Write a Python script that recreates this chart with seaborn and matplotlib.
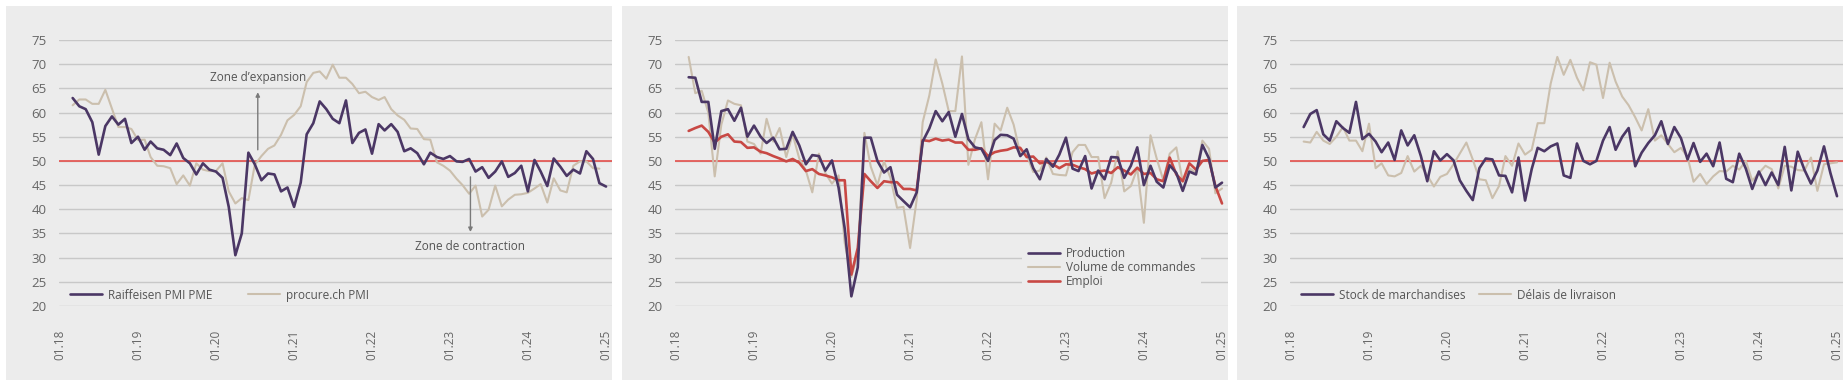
import pandas as pd
import matplotlib.pyplot as plt
import matplotlib.dates as mdates
from matplotlib.patches import Rectangle
from matplotlib.lines import Line2D
import seaborn as sns

# monthly data, 03.2018 - 01.2025
dates = pd.date_range('2018-03-01', '2025-01-01', freq='MS')

raiffeisen_pmi = [63, 61.3, 60.7, 58, 51.3, 57.2, 59.2, 57.5, 58.7, 53.7,
                  55, 52.3, 54, 52.6, 52.3, 51.2, 53.6, 50.6, 49.5, 47.2, 49.5, 48.2,
                  47.8, 46.5, 40.5, 30.5, 35, 51.7, 49.3, 46, 47.4, 47.2, 43.7, 44.5,
                  40.5, 45.5, 55.5, 57.8, 62.3, 60.7, 58.7, 57.8, 62.5, 53.7, 55.8, 56.5,
                  51.5, 57.6, 56.3, 57.6, 56, 52, 52.6, 51.6, 49.3, 51.7, 50.8, 50.4,
                  51, 49.9, 49.8, 50.4, 47.8, 48.7, 46.5, 47.8, 49.9, 46.7, 47.5, 49,
                  43.7, 50.2, 47.8, 44.8, 50.5, 48.8, 46.9, 48.2, 47.4, 52, 50.4, 45.4,
                  44.7]
procure_pmi = [61.5, 62.7, 62.7, 61.8, 61.8, 64.7, 60.8, 57, 57, 56.6,
               54.3, 54.4, 50.8, 49, 48.9, 48.5, 45.2, 47, 44.9, 49.5, 48.2, 47.9,
               47.9, 49.5, 43.7, 41.2, 42.3, 41.9, 49.2, 51, 52.5, 53.2, 55.4, 58.4,
               59.5, 61.3, 66.3, 68.2, 68.5, 67, 69.9, 67.2, 67.2, 65.9, 64, 64.3,
               63.2, 62.6, 63.2, 60.7, 59.4, 58.5, 56.7, 56.6, 54.5, 54.4, 49.7, 49,
               48, 46.3, 45, 43.2, 44.9, 38.5, 39.9, 44.9, 40.6, 42, 43, 43.1,
               43.4, 44.3, 45.2, 41.4, 46.4, 43.9, 43.5, 49, 49.9, 49.9, 48.5, 48.4,
               None]

production = [67.3, 67.2, 62.2, 62.2, 52.5, 60.3, 60.7, 58.3, 61, 55,
              57.3, 55, 53.7, 54.8, 52.4, 52.5, 56, 53.2, 49.3, 51.2, 51, 48,
              50.1, 44.5, 36, 22, 28, 54.8, 54.8, 50, 47.6, 48.7, 43, 41.7,
              40.4, 43.5, 54, 56.7, 60.3, 58.2, 60.1, 55, 59.7, 54.5, 52.8, 52.5,
              50, 54.3, 55.4, 55.3, 54.6, 51, 52.4, 48.5, 46.2, 50.4, 48.8, 51.3,
              54.8, 48.4, 47.9, 51, 44.3, 48, 46.2, 50.8, 50.7, 46.5, 49, 52.8,
              45, 49, 45.7, 44.5, 49.1, 47.5, 43.8, 47.8, 47.2, 53.3, 50.5, 44.5,
              45.5]
commandes = [71.5, 64, 64.5, 60, 46.8, 57.5, 62.5, 61.8, 61.5, 54,
             53.5, 51.5, 58.7, 54, 56.8, 50.8, 55.5, 50.5, 48, 43.5, 51.5, 47.5,
             45.3, 47, 33, 26, 31, 55.8, 48.8, 45, 49.9, 46.5, 40.3, 40.5,
             32, 42, 58, 63.5, 71, 66, 60.3, 60.3, 71.6, 49.2, 54.5, 58,
             46.2, 57.7, 56.3, 61, 57.5, 51.5, 51.3, 47.7, 48, 50.7, 47.3, 47.1,
             47, 51.8, 53.3, 53.3, 50.8, 50.8, 42.3, 45.5, 52, 43.7, 44.8, 48.4,
             37.2, 55.3, 50.5, 46, 51.5, 52.8, 45.7, 48.5, 47.5, 54.2, 52.5, 43.3,
             44.3]
emploi = [56.2, 56.8, 57.3, 56, 53.8, 55, 55.5, 54, 53.9, 52.7,
          52.8, 51.9, 51.6, 51, 50.5, 49.9, 50.4, 49.6, 47.9, 48.3, 47.3, 47,
          46.6, 46, 46, 26.5, 32, 47.3, 45.8, 44.4, 45.8, 45.6, 45.6, 44.2,
          44.2, 43.9, 54.3, 54.1, 54.6, 54.2, 54.4, 53.8, 53.8, 52.3, 52.3, 52.6,
          51, 51.8, 52.1, 52.3, 52.8, 52.7, 50.8, 50.9, 49.5, 49.8, 49.3, 48.5,
          49.3, 49.2, 48.7, 48.3, 47.4, 47.8, 48, 47.5, 48.7, 48, 47.2, 48.6,
          47.3, 47.5, 46.2, 45.8, 50.7, 47.2, 45.8, 49.5, 48.2, 50, 50.2, 44.8,
          41.2]

stocks = [57, 59.7, 60.5, 55.5, 54.2, 58.2, 56.8, 55.8, 62.2, 54.5,
          55.6, 54, 51.8, 53.8, 50.2, 56.3, 53.2, 55.3, 51, 45.8, 52, 50.1,
          51.4, 50.1, 46, 43.8, 41.9, 48.5, 50.5, 50.3, 47, 46.9, 43.5, 50.7,
          41.8, 48.3, 52.7, 52, 53, 53.6, 47, 46.5, 53.6, 50, 49.3, 50,
          54.2, 57, 52.3, 55, 56.8, 48.9, 51.7, 53.7, 55.3, 58.2, 53.5, 57,
          54.7, 50.3, 53.7, 49.8, 51.5, 48.9, 53.8, 46.3, 45.6, 51.5, 48.4, 44.2,
          47.8, 45, 47.6, 45, 52.9, 43.9, 51.9, 48.2, 45.3, 48, 53, 47.5,
          42.7]
delais = [54, 53.8, 56, 54.2, 53.5, 55, 57, 54.2, 54.2, 52,
          57.7, 48.5, 49.5, 47, 46.8, 47.5, 51, 47.8, 49, 47, 44.7, 46.7,
          47.3, 49.3, 51.5, 53.8, 50.3, 46.2, 46, 42.3, 44.8, 51, 49, 53.6,
          51.3, 52.3, 57.8, 57.8, 66, 71.5, 67.8, 70.9, 67.2, 64.6, 70.4, 69.9,
          63, 70.3, 66.4, 63.3, 61.5, 59, 56.3, 60.7, 54.2, 55.3, 53.5, 51.8,
          52.7, 50.8, 45.7, 47.3, 45.2, 46.8, 47.9, 47.8, 49, 48.2, 50, 45.9,
          47.5, 49, 48.3, 44.3, 49, 48.8, 48.1, 48, 50.7, 43.8, 49.3, 49.5,
          49.7]

year_ticks = pd.date_range('2018-01-01', '2025-01-01', freq='YS')
year_labels = [d.strftime('%m.%y') for d in year_ticks]

PURPLE = '#4b3765'
BEIGE = '#cbbfad'
RED = '#c84844'
BG = '#ececec'
TXT = '#666666'

sns.set_theme(style='white')
plt.rcParams['font.family'] = ['Open Sans', 'DejaVu Sans']

W, H = 1847, 384
fig = plt.figure(figsize=(W / 100, H / 100), dpi=100)
panel_left = [6, 622, 1237]
axes = []
for px in panel_left:
    fig.add_artist(Rectangle((px / W, 4 / H), 606 / W, 374 / H, transform=fig.transFigure,
                             facecolor=BG, edgecolor='none', zorder=-1))
    ax = fig.add_axes([(px + 53) / W, 78 / H, 553 / W, 266 / H])
    ax.patch.set_visible(False)
    axes.append(ax)


def line(ax, values, color, lw, label, z):
    df = pd.DataFrame({'date': dates, 'value': values})
    sns.lineplot(data=df, x='date', y='value', color=color, lw=lw, ax=ax, zorder=z)
    return Line2D([], [], color=color, lw=lw, label=label)


def style(ax):
    ax.set_ylim(20, 75)
    ax.set_yticks(range(20, 80, 5))
    ax.set_xlim(mdates.date2num(pd.Timestamp('2017-12-27')), mdates.date2num(pd.Timestamp('2025-01-29')))
    ax.set_xticks(mdates.date2num(year_ticks))
    ax.set_xticklabels(year_labels, rotation=90)
    ax.yaxis.grid(True, color='#c8c8c8', lw=1)
    ax.set_axisbelow(True)
    ax.axhline(50, color='#e5504c', lw=1.2, zorder=1.5)
    ax.tick_params(axis='y', length=0, pad=9, labelsize=9.5, labelcolor=TXT)
    ax.tick_params(axis='x', length=0, pad=17, labelsize=8.5, labelcolor=TXT)
    ax.set_xlabel('')
    ax.set_ylabel('')
    for s in ax.spines.values():
        s.set_visible(False)


def legend_at(ax, handles, x, y, loc='center left', **kw):
    lg = ax.legend(handles=handles, loc=loc, bbox_to_anchor=(x, y), fontsize=8.5,
                   handlelength=2.7, handletextpad=0.5, borderaxespad=0, labelcolor='#555555',
                   facecolor=BG, edgecolor='none', framealpha=1, **kw)
    ax.add_artist(lg)
    return lg


# panel 1
ax = axes[0]
h2 = line(ax, procure_pmi, BEIGE, 1.5, 'procure.ch PMI', 2)
h1 = line(ax, raiffeisen_pmi, PURPLE, 1.9, 'Raiffeisen PMI PME', 3)
style(ax)
legend_at(ax, [h1], 0.0136, 0.041, borderpad=0.3)
legend_at(ax, [h2], 0.335, 0.041, borderpad=0.3)
x_exp = mdates.date2num(pd.Timestamp('2020-07-15'))
ax.annotate('', xy=(x_exp, 64.2), xytext=(x_exp, 52.3),
            arrowprops=dict(arrowstyle='-|>', color='#7a7a7a', lw=1, mutation_scale=6, shrinkA=0, shrinkB=0))
ax.text(x_exp, 67.3, 'Zone d’expansion', ha='center', va='center', fontsize=8.5, color='#555555')
x_con = mdates.date2num(pd.Timestamp('2023-04-07'))
ax.annotate('', xy=(x_con, 35.3), xytext=(x_con, 46.7),
            arrowprops=dict(arrowstyle='-|>', color='#7a7a7a', lw=1, mutation_scale=6, shrinkA=0, shrinkB=0))
ax.text(x_con, 32.4, 'Zone de contraction', ha='center', va='center', fontsize=8.5, color='#555555')

# panel 2
ax = axes[1]
hv = line(ax, commandes, BEIGE, 1.5, 'Volume de commandes', 2)
he = line(ax, emploi, RED, 1.9, 'Emploi', 3)
hp = line(ax, production, PURPLE, 1.9, 'Production', 4)
style(ax)
legend_at(ax, [hp, hv, he], 0.628, 0.245, loc='upper left', borderpad=0.5, labelspacing=0.1)

# panel 3
ax = axes[2]
hd = line(ax, delais, BEIGE, 1.5, 'Délais de livraison', 2)
hs = line(ax, stocks, PURPLE, 1.9, 'Stock de marchandises', 3)
style(ax)
legend_at(ax, [hs], 0.0136, 0.041, borderpad=0.3)
legend_at(ax, [hd], 0.335, 0.041, borderpad=0.3)

plt.savefig('out.png', dpi=100)
